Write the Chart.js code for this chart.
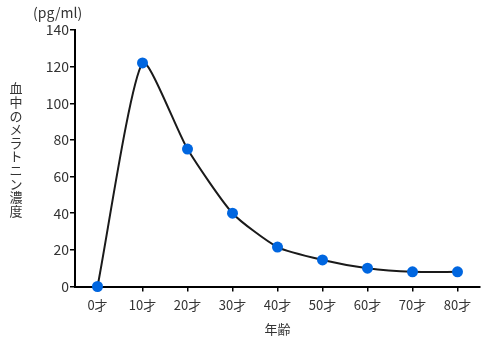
<!DOCTYPE html>
<html>
<head>
<meta charset="utf-8">
<script src="https://cdn.jsdelivr.net/npm/chart.js@4/dist/chart.umd.min.js"></script>
<style>
  html, body { margin: 0; padding: 0; background: #fff; }
  #chart { display: block; }
</style>
</head>
<body>
<canvas id="chart" width="489" height="345"></canvas>
<script>
// melatonin level by age
const ageLabels = ['0才', '10才', '20才', '30才', '40才', '50才', '60才', '70才', '80才'];
const melatonin = [0, 122, 75, 40, 21.5, 14.5, 10, 8, 8];
const yMin = 0, yMax = 140, yStep = 20;
const unitLabel = '(pg/ml)';
const yTitle = '血中のメラトニン濃度';
const xTitle = '年齢';

const FONT = '"Noto Sans CJK JP", "Noto Sans", sans-serif';
const TEXT = '#333';

// unit above the y axis and the vertical (tategaki) axis title
const sideText = {
    id: 'sideText',
    afterDraw(chart) {
        const ctx = chart.ctx;
        ctx.save();
        ctx.fillStyle = TEXT;
        ctx.font = '14px ' + FONT;
        ctx.textBaseline = 'middle';
        ctx.textAlign = 'left';
        ctx.fillText(unitLabel, 33, 13);
        ctx.font = '13px ' + FONT;
        ctx.textAlign = 'center';
        const chars = Array.from(yTitle);
        const step = 13.6;
        const top = 88.5;
        chars.forEach((c, i) => ctx.fillText(c, 16, top + i * step));
        ctx.restore();
    }
};

new Chart(document.getElementById('chart'), {
    type: 'line',
    data: {
        labels: ageLabels,
        datasets: [{
            data: melatonin,
            borderColor: '#1a1a1a',
            borderWidth: 2,
            tension: 0.2,
            pointRadius: 5.5,
            pointHoverRadius: 5.5,
            pointBackgroundColor: '#0066e0',
            pointBorderWidth: 0,
            clip: false
        }]
    },
    options: {
        responsive: false,
        animation: false,
        layout: { padding: { top: 30, right: 9, left: 0, bottom: 0 } },
        plugins: { legend: { display: false }, tooltip: { enabled: false } },
        scales: {
            x: {
                offset: true,
                grid: { drawOnChartArea: false, drawTicks: true, tickLength: 5, color: '#000', lineWidth: 1.5 },
                border: { color: '#000', width: 2 },
                ticks: { color: TEXT, font: { family: FONT, size: 13 }, padding: 6 },
                title: { display: true, text: xTitle, color: TEXT, font: { family: FONT, size: 13 }, padding: { top: 6, bottom: 8 } },
                afterFit: s => { s.height = 58.5; }
            },
            y: {
                min: yMin,
                max: yMax,
                grid: { drawOnChartArea: false, drawTicks: true, tickLength: 5, color: '#000', lineWidth: 1.5 },
                border: { color: '#000', width: 2 },
                ticks: { stepSize: yStep, color: TEXT, font: { family: FONT, size: 14 }, padding: 1 },
                afterFit: s => { s.width = 75; }
            }
        }
    },
    plugins: [sideText]
});
</script>
</body>
</html>
